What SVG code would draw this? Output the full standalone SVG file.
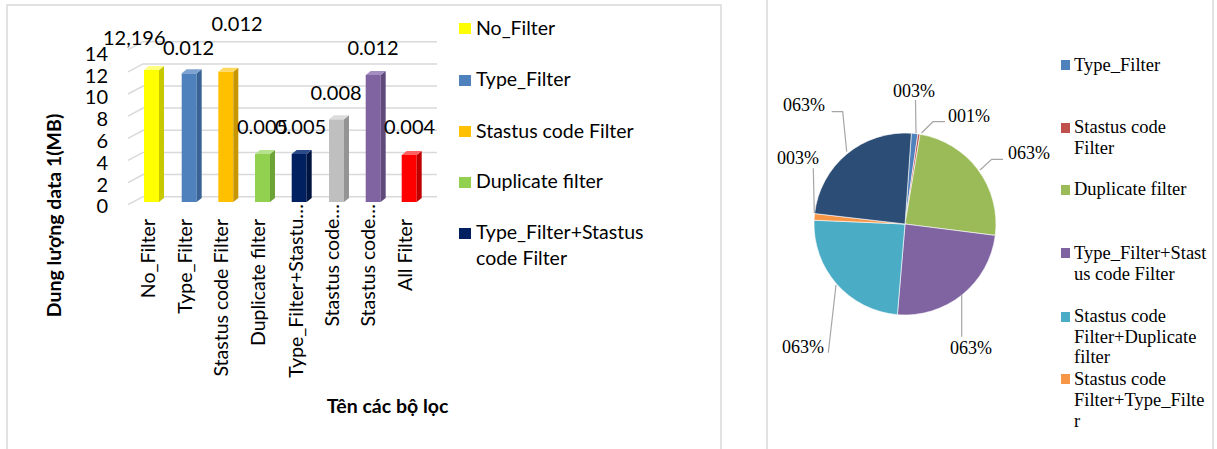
<svg xmlns="http://www.w3.org/2000/svg" width="1217" height="449" viewBox="0 0 1217 449">
<style>
.frame{fill:none;stroke:#d9d9d9;stroke-width:1.5}
.grid{fill:none;stroke:#d9d9d9;stroke-width:1.5}
.cal{font-family:Lato,"Open Sans","Liberation Sans",sans-serif;fill:#000}
.ax{font-size:20px}
.val{font-size:20px}
.cat{font-size:19.5px}
.leg{font-size:19.5px}
.ttl{font-size:19.5px;font-weight:bold}
.tnr{font-family:"Liberation Serif","Times New Roman",serif;fill:#000}
.pl{font-size:18px}
.pleg{font-size:18.5px}
.lead{fill:none;stroke:#a6a6a6;stroke-width:1.2}
.slice{stroke:#fff;stroke-width:0.6}
</style>
<rect width="1217" height="449" fill="#fff"/>

<g id="bar-chart">
  <path class="frame" d="M7,449 L7,5 L721,5 L721,449"/>
  <g id="gridlines">
    <path class="grid" d="M128,204.7 L143,196.7 L437,196.7"/>
    <path class="grid" d="M128,182.6 L143,174.6 L437,174.6"/>
    <path class="grid" d="M128,160.4 L143,152.4 L437,152.4"/>
    <path class="grid" d="M128,138.3 L143,130.3 L437,130.3"/>
    <path class="grid" d="M128,116.1 L143,108.1 L437,108.1"/>
    <path class="grid" d="M128,94 L143,86 L437,86"/>
    <path class="grid" d="M128,71.9 L143,63.9 L437,63.9"/>
    <path class="grid" d="M128,49.7 L143,41.7 L437,41.7"/>
  </g>
  <g id="y-axis" class="cal ax" text-anchor="end">
    <text x="108" y="60.5">14</text>
    <text x="108" y="82.5">12</text>
    <text x="108" y="104">10</text>
    <text x="108" y="126">8</text>
    <text x="108" y="148">6</text>
    <text x="108" y="169.5">4</text>
    <text x="108" y="191.5">2</text>
    <text x="108" y="213">0</text>
  </g>
  <g id="bars">
    <g id="bar-no-filter">
      <rect x="144" y="70" width="15" height="132" fill="#ffff00"/>
      <path d="M159,70 L164,66 L164,198 L159,202 Z" fill="#c8c800"/>
      <path d="M144,70 L149,66 L164,66 L159,70 Z" fill="#ffff80"/>
    </g>
    <g id="bar-type-filter">
      <rect x="181.7" y="73.3" width="15" height="128.7" fill="#4f81bd"/>
      <path d="M196.7,73.3 L201.7,69.3 L201.7,198 L196.7,202 Z" fill="#3a6395"/>
      <path d="M181.7,73.3 L186.7,69.3 L201.7,69.3 L196.7,73.3 Z" fill="#7fa3d1"/>
    </g>
    <g id="bar-status">
      <rect x="218.3" y="71.7" width="15" height="130.3" fill="#ffc000"/>
      <path d="M233.3,71.7 L238.3,67.7 L238.3,198 L233.3,202 Z" fill="#c89600"/>
      <path d="M218.3,71.7 L223.3,67.7 L238.3,67.7 L233.3,71.7 Z" fill="#ffd860"/>
    </g>
    <g id="bar-duplicate">
      <rect x="255" y="154" width="15" height="48" fill="#92d050"/>
      <path d="M270,154 L275,150 L275,198 L270,202 Z" fill="#6ea337"/>
      <path d="M255,154 L260,150 L275,150 L270,154 Z" fill="#b6e28e"/>
    </g>
    <g id="bar-type-status">
      <rect x="291.7" y="154" width="15" height="48" fill="#002060"/>
      <path d="M306.7,154 L311.7,150 L311.7,198 L306.7,202 Z" fill="#001440"/>
      <path d="M291.7,154 L296.7,150 L311.7,150 L306.7,154 Z" fill="#2a4a88"/>
    </g>
    <g id="bar-status-dup">
      <rect x="329" y="119.3" width="15" height="82.7" fill="#bfbfbf"/>
      <path d="M344,119.3 L349,115.3 L349,198 L344,202 Z" fill="#949494"/>
      <path d="M329,119.3 L334,115.3 L349,115.3 L344,119.3 Z" fill="#dcdcdc"/>
    </g>
    <g id="bar-status-type">
      <rect x="365.7" y="75" width="15" height="127" fill="#8064a2"/>
      <path d="M380.7,75 L385.7,71 L385.7,198 L380.7,202 Z" fill="#604a7b"/>
      <path d="M365.7,75 L370.7,71 L385.7,71 L380.7,75 Z" fill="#a48dc0"/>
    </g>
    <g id="bar-all">
      <rect x="401.7" y="155" width="15" height="47" fill="#ff0000"/>
      <path d="M416.7,155 L421.7,151 L421.7,198 L416.7,202 Z" fill="#c00000"/>
      <path d="M401.7,155 L406.7,151 L421.7,151 L416.7,155 Z" fill="#ff6060"/>
    </g>
  </g>
  <g id="value-labels" class="cal val">
    <text x="103" y="45">12,196</text>
    <text x="163" y="55">0.012</text>
    <text x="211.5" y="31">0.012</text>
    <text x="237" y="133.5">0.005</text>
    <text x="275" y="133.5">0.005</text>
    <text x="310.5" y="100">0.008</text>
    <text x="347.5" y="55">0.012</text>
    <text x="384" y="133.5">0.004</text>
  </g>
  <g id="category-labels" class="cal cat" text-anchor="end">
    <text transform="translate(155,219) rotate(-90)">No_Filter</text>
    <text transform="translate(191.7,219) rotate(-90)">Type_Filter</text>
    <text transform="translate(228.3,219) rotate(-90)">Stastus code Filter</text>
    <text transform="translate(265,219) rotate(-90)">Duplicate filter</text>
    <text transform="translate(302.5,204) rotate(-90)">Type_Filter+Stastu…</text>
    <text transform="translate(338.5,204) rotate(-90)">Stastus code…</text>
    <text transform="translate(375,204) rotate(-90)">Stastus code…</text>
    <text transform="translate(412,219) rotate(-90)">All Filter</text>
  </g>
  <text class="cal ttl" text-anchor="middle" transform="translate(61,215.5) rotate(-90)">Dung lượng data 1(MB)</text>
  <text class="cal ttl" text-anchor="middle" x="387.5" y="413">Tên các bộ lọc</text>
  <g id="bar-legend" class="cal leg">
    <rect x="459" y="23" width="12" height="11" fill="#ffff00"/>
    <text x="476" y="35">No_Filter</text>
    <rect x="459" y="75" width="12" height="11" fill="#4f81bd"/>
    <text x="476" y="86">Type_Filter</text>
    <rect x="459" y="126" width="12" height="11" fill="#ffc000"/>
    <text x="476" y="138">Stastus code Filter</text>
    <rect x="459" y="177" width="12" height="11" fill="#92d050"/>
    <text x="476" y="188">Duplicate filter</text>
    <rect x="459" y="228" width="12" height="11" fill="#002060"/>
    <text x="476" y="239">Type_Filter+Stastus</text>
    <text x="476" y="265">code Filter</text>
  </g>
</g>

<g id="pie-chart">
  <path class="frame" d="M767,0 L767,449 M1213,0 L1213,449"/>
  <g id="slices">
    <path class="slice" fill="#4f81bd" d="M905,224 L911.35,133.22 A91,91 0 0 1 917.93,133.92 Z"/>
    <path class="slice" fill="#c0504d" d="M905,224 L917.93,133.92 A91,91 0 0 1 920.11,134.26 Z"/>
    <path class="slice" fill="#9bbb59" d="M905,224 L920.11,134.26 A91,91 0 0 1 995.28,235.41 Z"/>
    <path class="slice" fill="#8064a2" d="M905,224 L995.28,235.41 A91,91 0 0 1 897.39,314.68 Z"/>
    <path class="slice" fill="#4bacc6" d="M905,224 L897.39,314.68 A91,91 0 0 1 814.08,220.19 Z"/>
    <path class="slice" fill="#f79646" d="M905,224 L814.08,220.19 A91,91 0 0 1 814.6,213.54 Z"/>
    <path class="slice" fill="#2c4d75" d="M905,224 L814.6,213.54 A91,91 0 0 1 911.35,133.22 Z"/>
  </g>
  <g id="leaders">
    <path class="lead" d="M915.5,100 L916,133"/>
    <path class="lead" d="M921.5,133 L933,121.7 L945,121.7"/>
    <path class="lead" d="M980,170 L991.7,159.3 L1003,159.3"/>
    <path class="lead" d="M831.7,111.7 L842.7,111.7 L846.7,151.7"/>
    <path class="lead" d="M813.3,168.3 L814.3,213"/>
    <path class="lead" d="M828.3,352.7 L836,285"/>
    <path class="lead" d="M961.7,336.7 L961.7,295"/>
  </g>
  <g id="pie-labels" class="tnr pl">
    <text x="893" y="97">003%</text>
    <text x="948" y="122">001%</text>
    <text x="1008" y="159">063%</text>
    <text x="783" y="111">063%</text>
    <text x="777" y="164">003%</text>
    <text x="782" y="353">063%</text>
    <text x="950" y="354">063%</text>
  </g>
  <g id="pie-legend" class="tnr pleg">
    <rect x="1061" y="60" width="9" height="10" fill="#4f81bd"/>
    <text x="1074" y="71">Type_Filter</text>
    <rect x="1061" y="123" width="9" height="10" fill="#c0504d"/>
    <text x="1074" y="133">Stastus code</text>
    <text x="1074" y="154">Filter</text>
    <rect x="1061" y="185" width="9" height="10" fill="#9bbb59"/>
    <text x="1074" y="195">Duplicate filter</text>
    <rect x="1061" y="248" width="9" height="10" fill="#8064a2"/>
    <text x="1074" y="259">Type_Filter+Stast</text>
    <text x="1074" y="280">us code Filter</text>
    <rect x="1061" y="312" width="9" height="10" fill="#4bacc6"/>
    <text x="1074" y="322">Stastus code</text>
    <text x="1074" y="343">Filter+Duplicate</text>
    <text x="1074" y="363">filter</text>
    <rect x="1061" y="374" width="9" height="10" fill="#f79646"/>
    <text x="1074" y="385">Stastus code</text>
    <text x="1074" y="406">Filter+Type_Filte</text>
    <text x="1074" y="427">r</text>
  </g>
</g>
</svg>
